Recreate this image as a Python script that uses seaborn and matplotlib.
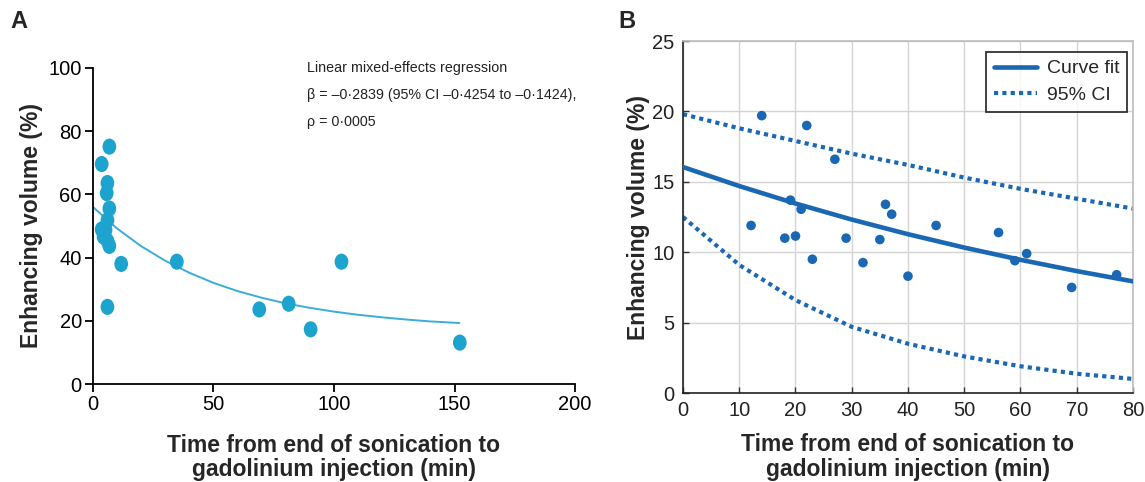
import numpy as np
import matplotlib
matplotlib.use("Agg")
import matplotlib.pyplot as plt
from matplotlib.path import Path
import seaborn as sns

#-------------------------------------------------------------------------

# Panel A: enhancing volume vs time (all patients)
a_time = [6.8, 3.6, 6.0, 5.7, 6.8, 6.0, 5.2, 3.6, 4.4, 6.0, 6.8, 11.7,
          34.8, 6.0, 69.0, 81.2, 90.3, 103.1, 152.2]
a_volume = [75.1, 69.6, 63.6, 60.4, 55.5, 51.8, 48.7, 48.9, 46.6, 45.3, 43.7, 38.0,
            38.7, 24.4, 23.6, 25.4, 17.3, 38.7, 13.1]

# fitted curve in panel A
a_fit_time = [0, 10, 20, 30, 40, 50, 60, 70, 80, 90, 100, 110, 120, 130, 140, 152]
a_fit_volume = [56.0, 49.2, 43.6, 39.0, 35.2, 32.0, 29.4, 27.3, 25.5, 24.1,
                22.9, 21.9, 21.1, 20.4, 19.8, 19.3]

a_text = ["Linear mixed-effects regression",
          "\u03b2 = \u20130\u00b72839 (95% CI \u20130\u00b74254 to \u20130\u00b71424),",
          "\u03c1 = 0\u00b70005"]

# Panel B: enhancing volume vs time
b_time = [12.1, 14.0, 18.1, 19.1, 20.0, 21.0, 22.0, 23.0, 27.0, 29.0, 32.0,
          35.0, 36.0, 37.1, 40.0, 45.0, 56.1, 59.0, 61.1, 69.1, 77.1]
b_volume = [11.9, 19.7, 11.0, 13.7, 11.15, 13.05, 19.0, 9.5, 16.6, 11.0, 9.26,
            10.9, 13.4, 12.7, 8.3, 11.9, 11.4, 9.4, 9.9, 7.5, 8.4]

b_curve_time = [0, 10, 20, 30, 40, 50, 60, 70, 80]
b_fit = [16.05, 14.70, 13.46, 12.32, 11.28, 10.33, 9.46, 8.66, 7.93]
b_ci_upper = [19.8, 18.8, 17.9, 17.0, 16.2, 15.3, 14.5, 13.8, 13.1]
b_ci_lower = [12.5, 9.1, 6.6, 4.7, 3.5, 2.6, 1.9, 1.37, 1.0]

#-------------------------------------------------------------------------

sns.set_style("white")
plt.rcParams['font.family'] = ['Liberation Sans', 'DejaVu Sans']

teal = "#1ca4cf"
blue = "#1a68b3"

fig = plt.figure(figsize=(11.45, 4.82), dpi=100)
ax_a = fig.add_axes([0.0812, 0.2033, 0.421, 0.6557])
ax_b = fig.add_axes([0.5965, 0.1846, 0.393, 0.7303])

# slightly tall oval marker like the original
circ = Path.unit_circle()
oval = Path(circ.vertices * np.array([0.85, 1.0]), circ.codes)

#-------------------------------------------------------------------------
# Panel A

sns.lineplot(x=a_fit_time, y=a_fit_volume, ax=ax_a, color="#3aaed6",
             linewidth=1.4, zorder=2)
sns.scatterplot(x=a_time, y=a_volume, ax=ax_a, color=teal, marker=oval,
                s=135, edgecolor="none", zorder=3)

ax_a.set_xlim(0, 200)
ax_a.set_ylim(0, 100)
ax_a.set_xticks([0, 50, 100, 150, 200])
ax_a.set_yticks([0, 20, 40, 60, 80, 100])
sns.despine(ax=ax_a)
for side in ["left", "bottom"]:
    ax_a.spines[side].set_color("black")
    ax_a.spines[side].set_linewidth(1.3)
ax_a.tick_params(direction="out", length=6, width=1.3, colors="black",
                 labelsize=14.5, left=True, bottom=True, pad=2)
ax_a.set_xlabel("Time from end of sonication to\ngadolinium injection (min)",
                fontsize=16.5, fontweight="bold", labelpad=14, linespacing=1.1)
ax_a.set_ylabel("Enhancing volume (%)", fontsize=16.5, fontweight="bold",
                labelpad=4)

for i, line in enumerate(a_text):
    fig.text(307 / 1145, 1 - (68 + 27 * i) / 482, line, fontsize=10.3,
             va="center", ha="left", color="#222222")

#-------------------------------------------------------------------------
# Panel B

sns.lineplot(x=b_curve_time, y=b_ci_upper, ax=ax_b, color=blue, linewidth=3,
             linestyle=(0, (1, 1)), label="95% CI", zorder=2)
sns.lineplot(x=b_curve_time, y=b_ci_lower, ax=ax_b, color=blue, linewidth=3,
             linestyle=(0, (1, 1)), zorder=2)
sns.lineplot(x=b_curve_time, y=b_fit, ax=ax_b, color=blue, linewidth=3.3,
             label="Curve fit", zorder=3)
sns.scatterplot(x=b_time, y=b_volume, ax=ax_b, color=blue, s=48,
                edgecolor="none", zorder=4)

ax_b.set_xlim(0, 80)
ax_b.set_ylim(0, 25)
ax_b.set_xticks(range(0, 81, 10))
ax_b.set_yticks(range(0, 26, 5))
ax_b.grid(True, color="#d4d4d4", linewidth=1)
ax_b.set_axisbelow(True)
for side in ["left", "bottom"]:
    ax_b.spines[side].set_color("#222222")
    ax_b.spines[side].set_linewidth(1.2)
for side in ["top", "right"]:
    ax_b.spines[side].set_color("#bcbcbc")
    ax_b.spines[side].set_linewidth(1.2)
ax_b.tick_params(direction="in", length=4, width=1, colors="#333333",
                 labelsize=14.5, labelcolor="#222222", left=True, bottom=True,
                 pad=6)
ax_b.set_xlabel("Time from end of sonication to\ngadolinium injection (min)",
                fontsize=16.5, fontweight="bold", labelpad=9, linespacing=1.1)
ax_b.set_ylabel("Enhancing volume (%)", fontsize=16.5, fontweight="bold",
                labelpad=2)

handles, labels = ax_b.get_legend_handles_labels()
order = [labels.index("Curve fit"), labels.index("95% CI")]
leg = ax_b.legend([handles[i] for i in order], [labels[i] for i in order],
                  loc="upper right", bbox_to_anchor=(1127 / 1145, 1 - 52 / 482),
                  bbox_transform=fig.transFigure, borderaxespad=0,
                  fontsize=14, frameon=True, fancybox=False,
                  handlelength=2.2, handletextpad=0.5,
                  labelspacing=0.45, borderpad=0.4)
leg.get_frame().set_edgecolor("black")
leg.get_frame().set_linewidth(1.3)

#-------------------------------------------------------------------------
# Panel letters

fig.text(10 / 1145, 1 - 22 / 482, "A", fontsize=17, fontweight="bold",
         va="center", ha="left")
fig.text(618 / 1145, 1 - 22 / 482, "B", fontsize=17, fontweight="bold",
         va="center", ha="left")

fig.savefig("out.png", dpi=100)
